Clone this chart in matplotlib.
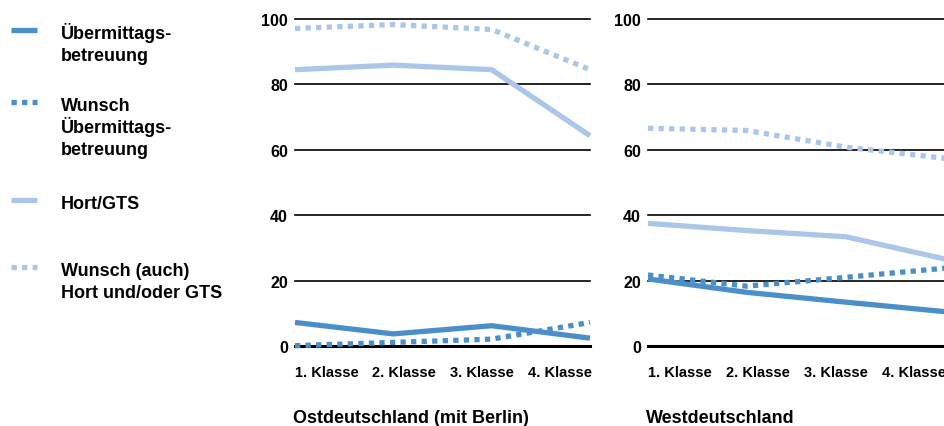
import numpy as np
import matplotlib.pyplot as plt
from matplotlib.lines import Line2D

plt.rcParams['font.family'] = ['Liberation Sans', 'DejaVu Sans']
plt.rcParams['font.weight'] = 'bold'

klassen = ['1. Klasse', '2. Klasse', '3. Klasse', '4. Klasse']
regionen = ['Ostdeutschland (mit Berlin)', 'Westdeutschland']
serien = ['Übermittags-\nbetreuung', 'Wunsch\nÜbermittags-\nbetreuung',
          'Hort/GTS', 'Wunsch (auch)\nHort und/oder GTS']

# values per region: Uebermittag, Wunsch Uebermittag, Hort/GTS, Wunsch Hort/GTS
ost_ueber = [7.2, 3.7, 6.2, 2.4]
ost_wunsch_ueber = [0.1, 1.1, 2.1, 7.2]
ost_hort = [84.5, 85.9, 84.5, 64.3]
ost_wunsch_hort = [97.1, 98.3, 96.8, 84.5]

west_ueber = [20.5, 16.4, 13.4, 10.5]
west_wunsch_ueber = [21.7, 18.3, 21.0, 23.8]
west_hort = [37.5, 35.3, 33.4, 26.6]
west_wunsch_hort = [66.6, 65.9, 60.8, 57.4]

dunkel = '#4a8fca'
hell = '#abc6e8'
stile = [(dunkel, '-'), (dunkel, (0, (1, 1))), (hell, '-'), (hell, (0, (1, 1)))]

fig = plt.figure(figsize=(9.45, 4.27), dpi=100)
W, H = 945, 427

def panel(x0, x1, daten, titel):
    ax = fig.add_axes([x0 / W, 1 - 347 / H, (x1 - x0) / W, 327 / H])
    x = np.arange(len(klassen))
    ax.set_xlim(0, 3)
    ax.set_ylim(0, 100)
    for y in [20, 40, 60, 80, 100]:
        ax.axhline(y, color='black', lw=1.2, zorder=1, clip_on=False)
    ax.axhline(0, color='black', lw=2.2, zorder=1, clip_on=False)
    for werte, (farbe, ls) in zip(daten, stile):
        ax.plot(x, werte, color=farbe, ls=ls, lw=3.8, solid_capstyle='butt',
                dash_capstyle='butt', zorder=3, clip_on=(x1 >= W))
    for s in ax.spines.values():
        s.set_visible(False)
    ax.set_yticks([0, 20, 40, 60, 80, 100])
    ax.set_xticks([0.32, 1.11, 1.90, 2.69])
    ax.set_xticklabels(klassen)
    ax.tick_params(length=0)
    ax.tick_params(axis='y', pad=5, labelsize=11.5)
    ax.tick_params(axis='x', pad=14, labelsize=10.5)
    for lab in ax.get_xticklabels() + ax.get_yticklabels():
        lab.set_fontweight('bold')
    ax.set_facecolor('none')
    ax.text(x0 / W - 0.002, 1 - 423 / H, titel, transform=fig.transFigure,
            fontsize=13, fontweight='bold', va='baseline', ha='left')
    return ax

panel(295, 590, [ost_ueber, ost_wunsch_ueber, ost_hort, ost_wunsch_hort], regionen[0])
panel(648, 945, [west_ueber, west_wunsch_ueber, west_hort, west_wunsch_hort], regionen[1])

# legend
leg_y = [31, 103, 201, 268]
for label, (farbe, ls), y in zip(serien, stile, leg_y):
    fig.add_artist(Line2D([11 / W, 37 / W], [1 - y / H, 1 - y / H], color=farbe,
                          ls=ls, lw=3.8, solid_capstyle='butt', dash_capstyle='butt'))
    for i, zeile in enumerate(label.split('\n')):
        fig.text(61 / W, 1 - (y + 8 + 22 * i) / H, zeile, fontsize=13,
                 fontweight='bold', va='baseline', ha='left')

fig.savefig('out.png', dpi=100)
